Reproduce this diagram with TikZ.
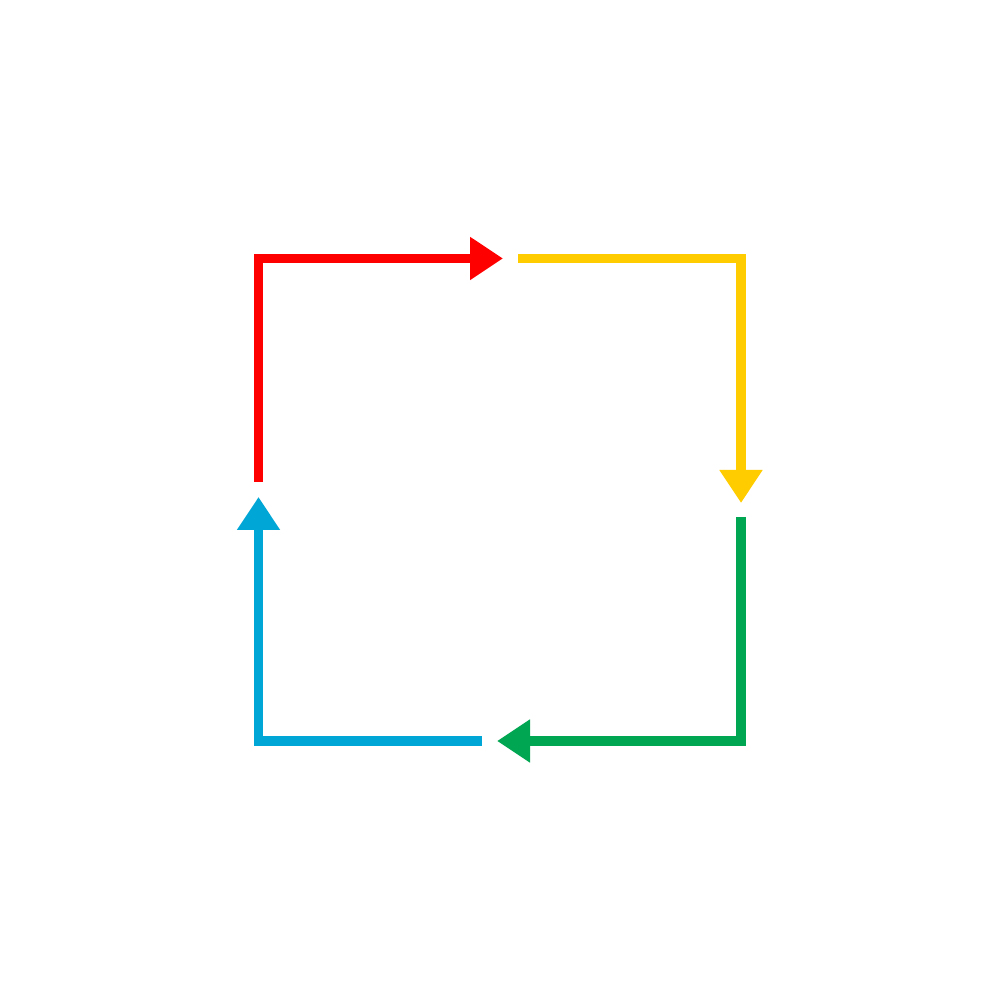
\documentclass[tikz,border=0pt]{standalone}
\usetikzlibrary{arrows.meta}
\definecolor{cycred}{RGB}{255,0,0}
\definecolor{cycyellow}{RGB}{255,204,0}
\definecolor{cycgreen}{RGB}{0,166,81}
\definecolor{cycblue}{RGB}{0,166,214}
\begin{document}
\begin{tikzpicture}[cycarrow/.style={line width=0.095cm,line join=miter,-{Triangle[length=0.33cm,width=0.41cm]}}]
        \fill[white] (0,0) rectangle (10,10);
        \useasboundingbox (0,0) rectangle (10,10);
        \coordinate (tl) at (2.585,7.415); \coordinate (tr) at (7.41,7.415);
        \coordinate (br) at (7.41,2.59);  \coordinate (bl) at (2.585,2.59);
        \coordinate (redstart) at (2.585,5.18);  \coordinate (redtip) at (5.03,7.415);
        \coordinate (yelstart) at (5.18,7.415);  \coordinate (yeltip) at (7.41,4.97);
        \coordinate (grnstart) at (7.41,4.83);   \coordinate (grntip) at (4.97,2.59);
        \coordinate (blustart) at (4.82,2.59);   \coordinate (blutip) at (2.585,5.03);
        \draw[cycarrow,cycred] (redstart) -- (tl) -- (redtip);
        \draw[cycarrow,cycyellow] (yelstart) -- (tr) -- (yeltip);
        \draw[cycarrow,cycgreen] (grnstart) -- (br) -- (grntip);
        \draw[cycarrow,cycblue] (blustart) -- (bl) -- (blutip);
    \end{tikzpicture}
\end{document}
